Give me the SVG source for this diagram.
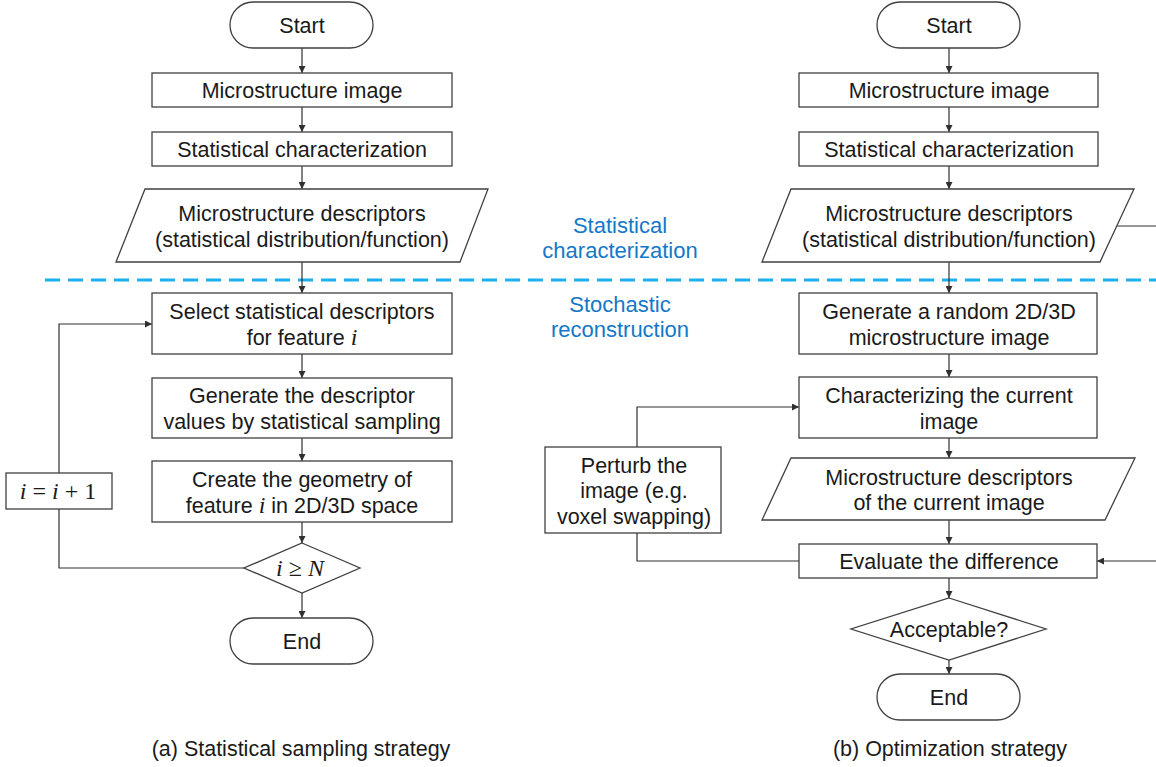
<svg xmlns="http://www.w3.org/2000/svg" width="1156" height="767" viewBox="0 0 1156 767">
<style>
.n{fill:#fff;stroke:#404040;stroke-width:1.3}
.t{font-family:"Liberation Sans",Arial,sans-serif;font-size:21.5px;fill:#1a1a1a;text-anchor:middle}
.m{font-family:"Liberation Serif","Times New Roman",serif;font-style:italic;font-size:24px}
.mu{font-family:"Liberation Serif","Times New Roman",serif;font-style:normal;font-size:24px}
.b{font-family:"Liberation Sans",Arial,sans-serif;font-size:22px;fill:#1478C8;text-anchor:middle}
.c{font-family:"Liberation Sans",Arial,sans-serif;font-size:21.5px;fill:#1a1a1a;text-anchor:middle}
.e{fill:none;stroke:#303030;stroke-width:1.2}
.ea{fill:none;stroke:#303030;stroke-width:1.2;marker-end:url(#ah)}
</style>
<defs>
<marker id="ah" viewBox="0 0 10 10" refX="10" refY="5" markerWidth="7" markerHeight="7" markerUnits="userSpaceOnUse" orient="auto">
<path d="M0,0 L10,5 L0,10 z" fill="#303030"/>
</marker>
</defs>
<rect width="1156" height="767" fill="#fff"/>
<line x1="45" y1="280" x2="1156" y2="280" stroke="#1CB0EE" stroke-width="3" stroke-dasharray="15 8"/>
<text class="b" x="620" y="233">Statistical</text>
<text class="b" x="620" y="258">characterization</text>
<text class="b" x="620" y="312">Stochastic</text>
<text class="b" x="620" y="337">reconstruction</text>

<g id="connectors">
<path class="ea" d="M302,48 V73"/>
<path class="ea" d="M302,107 V132"/>
<path class="ea" d="M302,166 V189"/>
<path class="ea" d="M302,262 V293"/>
<path class="ea" d="M302,354 V378"/>
<path class="ea" d="M302,438 V461"/>
<path class="ea" d="M302,522 V543"/>
<path class="ea" d="M302,593 V618"/>
<path class="ea" d="M59,473 V324 H152"/>
<path class="e" d="M244,568 H59 V509"/>
<path class="ea" d="M949,48 V73"/>
<path class="ea" d="M949,107 V132"/>
<path class="ea" d="M949,166 V189"/>
<path class="ea" d="M949,262 V293"/>
<path class="ea" d="M949,354 V377"/>
<path class="ea" d="M949,438 V458"/>
<path class="ea" d="M949,520 V544"/>
<path class="ea" d="M949,578 V598"/>
<path class="ea" d="M949,660 V674"/>
<path class="ea" d="M637,447 V407 H799"/>
<path class="e" d="M637,533 V561 H799"/>
<path class="ea" d="M1117,226 H1165 V561 H1097"/>
</g>

<g id="a-start"><rect class="n" x="230" y="2" width="143" height="46" rx="23"/><text class="t" x="302" y="33">Start</text></g>
<g id="a-image"><rect class="n" x="152" y="73" width="300" height="34"/><text class="t" x="302" y="98">Microstructure image</text></g>
<g id="a-char"><rect class="n" x="152" y="132" width="300" height="34"/><text class="t" x="302" y="157">Statistical characterization</text></g>
<g id="a-desc"><polygon class="n" points="145,189 488,189 460,262 116,262"/><text class="t" x="302" y="221">Microstructure descriptors</text><text class="t" x="302" y="247">(statistical distribution/function)</text></g>
<g id="a-select"><rect class="n" x="152" y="293" width="300" height="61"/><text class="t" x="302" y="319">Select statistical descriptors</text><text class="t" x="302" y="345">for feature <tspan class="m">i</tspan></text></g>
<g id="a-generate"><rect class="n" x="152" y="378" width="300" height="60"/><text class="t" x="302" y="403">Generate the descriptor</text><text class="t" x="302" y="429">values by statistical sampling</text></g>
<g id="a-create"><rect class="n" x="152" y="461" width="300" height="61"/><text class="t" x="302" y="487">Create the geometry of</text><text class="t" x="302" y="513">feature <tspan class="m">i</tspan> in 2D/3D space</text></g>
<g id="a-cond"><polygon class="n" points="302,543 360,568 302,593 244,568"/><text class="t" x="300" y="576"><tspan class="m">i</tspan><tspan class="mu"> ≥ </tspan><tspan class="m">N</tspan></text></g>
<g id="a-inc"><rect class="n" x="6" y="473" width="106" height="36"/><text class="t" x="58" y="499"><tspan class="m">i</tspan><tspan class="mu"> = </tspan><tspan class="m">i</tspan><tspan class="mu"> + 1</tspan></text></g>
<g id="a-end"><rect class="n" x="230" y="618" width="143" height="46" rx="23"/><text class="t" x="302" y="649">End</text></g>

<g id="b-start"><rect class="n" x="877" y="2" width="143" height="46" rx="23"/><text class="t" x="949" y="33">Start</text></g>
<g id="b-image"><rect class="n" x="799" y="73" width="299" height="34"/><text class="t" x="949" y="98">Microstructure image</text></g>
<g id="b-char"><rect class="n" x="799" y="132" width="299" height="34"/><text class="t" x="949" y="157">Statistical characterization</text></g>
<g id="b-desc"><polygon class="n" points="791,189 1134,189 1100,262 762,262"/><text class="t" x="949" y="221">Microstructure descriptors</text><text class="t" x="949" y="247">(statistical distribution/function)</text></g>
<g id="b-random"><rect class="n" x="799" y="293" width="298" height="61"/><text class="t" x="949" y="319">Generate a random 2D/3D</text><text class="t" x="949" y="345">microstructure image</text></g>
<g id="b-charcur"><rect class="n" x="799" y="377" width="298" height="61"/><text class="t" x="949" y="403">Characterizing the current</text><text class="t" x="949" y="429">image</text></g>
<g id="b-desccur"><polygon class="n" points="791,458 1135,458 1105,520 762,520"/><text class="t" x="949" y="485">Microstructure descriptors</text><text class="t" x="949" y="510">of the current image</text></g>
<g id="b-perturb"><rect class="n" x="545" y="447" width="176" height="86"/><text class="t" x="634" y="473">Perturb the</text><text class="t" x="634" y="498">image (e.g.</text><text class="t" x="634" y="524">voxel swapping)</text></g>
<g id="b-eval"><rect class="n" x="799" y="544" width="298" height="34"/><text class="t" x="949" y="569">Evaluate the difference</text></g>
<g id="b-accept"><polygon class="n" points="949,598 1046,629 949,660 851,629"/><text class="t" x="949" y="637">Acceptable?</text></g>
<g id="b-end"><rect class="n" x="877" y="674" width="143" height="46" rx="23"/><text class="t" x="949" y="705">End</text></g>

<text class="c" x="301" y="756">(a) Statistical sampling strategy</text>
<text class="c" x="950" y="756">(b) Optimization strategy</text>
</svg>
